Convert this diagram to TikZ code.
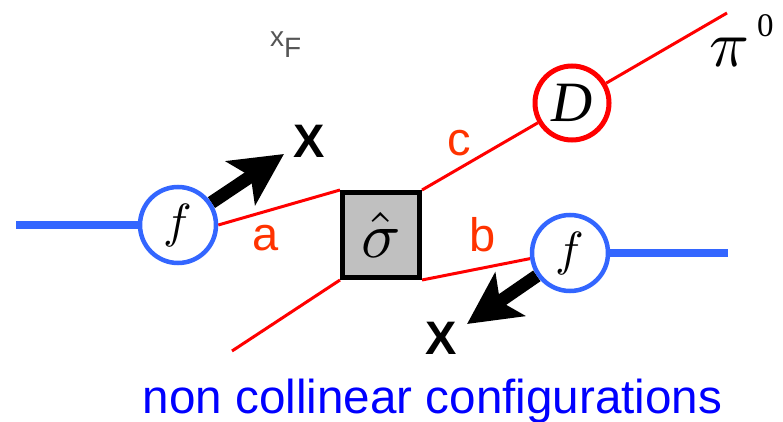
\documentclass[tikz,border=0pt]{standalone}
\usepackage{fontspec}
\setmainfont{Liberation Sans}
\newfontfamily\timesfont{Liberation Serif}
\usetikzlibrary{arrows.meta,backgrounds}
\definecolor{lineblue}{RGB}{51,102,255}
\definecolor{labelred}{RGB}{255,51,0}
\definecolor{boxgray}{RGB}{192,192,192}
\definecolor{xfgray}{RGB}{85,85,85}

\begin{document}
\begin{tikzpicture}[x=1pt,y=-1pt,
    pdf/.style={circle,draw=lineblue,line width=4.5pt,fill=white,minimum size=76pt,inner sep=0pt},
    frag/.style={circle,draw=red,line width=5pt,fill=white,minimum size=74pt,inner sep=0pt,font=\fontsize{57}{57}\selectfont\timesfont\itshape},
    hard/.style={draw,line width=5pt,fill=boxgray,minimum width=77pt,minimum height=85pt,inner sep=0pt},
    parton/.style={red,line width=3pt},
    hadron/.style={lineblue,line width=8pt},
    kt/.style={line width=13pt,-{Stealth[length=52pt,width=52pt,inset=12pt]}},
    lbl/.style={labelred,inner sep=0pt,font=\fontsize{47}{47}\selectfont}]
    \useasboundingbox (0,0) rectangle (783,422);
    % blobs
    \node[hard] (sig) at (381,235) {\scalebox{6.5}{$\hat{\sigma}$}};
    \node[pdf] (fa) at (178,225) {\scalebox{4.8}{$f$}};
    \node[pdf] (fb) at (570,253) {\scalebox{4.8}{$f$}};
    \node[frag] (dc) at (572,103) {D};
    % free ends
    \coordinate (pa) at (16,225);
    \coordinate (pb) at (728,253);
    \coordinate (pion) at (727,13);
    \coordinate (rest) at (232,351);
    \coordinate (xa) at (284,154);
    \coordinate (xb) at (467,324);
    \begin{scope}[on background layer]
        \draw[hadron] (pa) -- (fa);
        \draw[hadron] (fb) -- (pb);
        \draw[parton] (fa.east) -- (sig.north west);
        \draw[parton] (sig.south east) -- (fb.188);
        \draw[parton] (sig.north east) -- (dc) -- (pion);
        \draw[parton] (sig.south west) -- (rest);
        \draw[kt] (fa) -- (xa);
        \draw[kt] (fb) -- (xb);
    \end{scope}
    % labels
    \node[lbl] (la) at (266,238) {a};
    \node[lbl] (lb) at (483,235) {b};
    \node[lbl] (lc) at (459,143) {c};
    \node[inner sep=0pt,font=\fontsize{47}{47}\selectfont\bfseries] (ka) at (309,141) {X};
    \node[inner sep=0pt,font=\fontsize{47}{47}\selectfont\bfseries] (kb) at (441,338) {X};
    \node[anchor=base west,inner sep=0pt,xfgray,font=\fontsize{28}{28}\selectfont] (xf) at (270,47) {x\raisebox{-11pt}{F}};
    \node[anchor=base west,inner sep=0pt] (pi) at (709,67) {\scalebox{6.6}{$\pi$}\hspace{8pt}\raisebox{30pt}{\fontsize{33}{33}\selectfont\timesfont 0}};
    \node[anchor=base,inner sep=0pt,blue,font=\fontsize{47.6}{48}\selectfont] (cap) at (432.5,413) {non collinear configurations};
\end{tikzpicture}
\end{document}
